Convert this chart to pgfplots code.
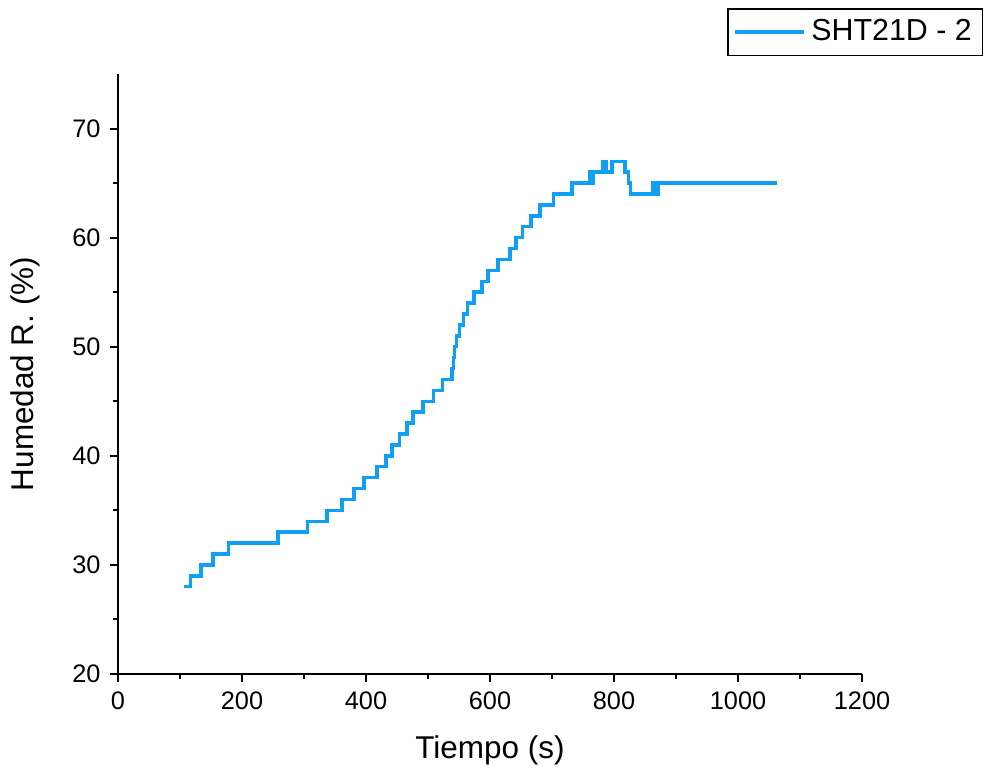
\documentclass[border=0pt]{standalone}
\usepackage{fontspec}
\setmainfont{Liberation Sans}
\usepackage{pgfplots}
\pgfplotsset{compat=1.18}
\definecolor{linea}{RGB}{15,160,245}

\begin{document}
\begin{tikzpicture}
  \begin{axis}[
    name=ax,
    scale only axis,
    width=279pt, height=225pt,
    xmin=0, xmax=1200, ymin=20, ymax=75,
    axis x line*=bottom, axis y line*=left,
    xtick={0,200,...,1200}, ytick={20,30,...,70},
    minor x tick num=1, minor y tick num=1,
    tick align=outside,
    major tick length=3pt, minor tick length=1.8pt,
    every tick/.style={black, line width=0.75pt},
    axis line style={line width=0.8pt},
    tick label style={font=\fontsize{9.5}{11}\selectfont},
    label style={font=\fontsize{11.8}{14}\selectfont},
    /pgf/number format/assume math mode=true,
    /pgf/number format/1000 sep={},
    xlabel={Tiempo (s)},
    ylabel={Humedad R. (\%)},
    xlabel style={at={(axis description cs:0.5,-0.127)}, anchor=center},
    ylabel style={at={(axis description cs:-0.125,0.5)}, anchor=center},
    legend style={at={(1.163,1.11)}, anchor=north east, draw=black,
      line width=0.6pt, font=\fontsize{11.4}{13}\selectfont,
      inner xsep=2pt, inner ysep=2pt},
    legend cell align=left,
    legend image code/.code={\draw[#1] (0pt,0pt) -- (26pt,0pt);},
  ]
    \addplot[const plot, color=linea, line width=1.3pt] coordinates {
      (106,28) (117,29) (134,30) (153,31) (178,32) (258,33) (306,34)
      (337,35) (361,36) (381,37) (397,38) (418,39) (432,40) (442,41)
      (454,42) (466,43) (476,44) (492,45) (509,46) (523,47) (539,48)
      (541,49) (543,50) (546,51) (551,52) (557,53) (564,54) (574,55)
      (587,56) (597,57) (613,58) (632,59) (642,60) (652,61) (666,62)
      (681,63) (702,64) (732,65) (761,66) (763,65) (766,66) (782,67)
      (787,66) (797,67) (818,66) (823,65) (827,64) (863,65) (866,64)
      (871,65) (1063,65)
    };
    \addlegendentry{SHT21D - 2}
  \end{axis}
  \pgfresetboundingbox
  \path ([shift={(-44.25pt,-37.5pt)}]ax.south west)
    rectangle ([shift={(46.125pt,27.75pt)}]ax.north east);
\end{tikzpicture}
\end{document}
